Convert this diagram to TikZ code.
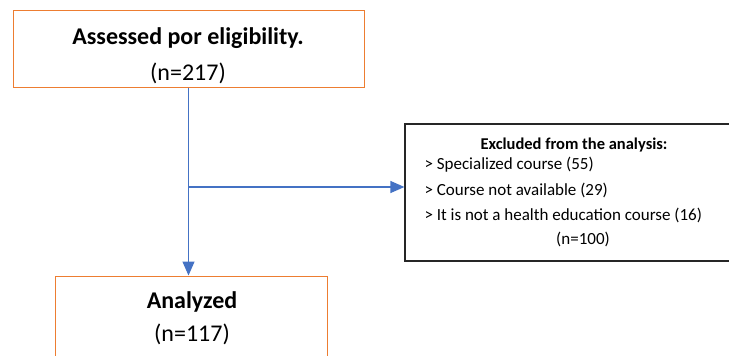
\documentclass[tikz,border=0pt]{standalone}
\usepackage{fontspec}
\setmainfont{Carlito}
\usetikzlibrary{arrows.meta}
\definecolor{boxorange}{RGB}{237,125,49}
\definecolor{flowblue}{RGB}{68,114,196}
\tikzset{
  stagebox/.style={draw=boxorange, line width=1pt, inner sep=0pt},
  flow/.style={draw=flowblue, line width=1.2pt, -{Triangle[length=14pt,width=12pt]}},
}
\begin{document}
\begin{tikzpicture}[x=1pt,y=-1pt]
    \useasboundingbox (0,0) rectangle (729,356);
    \clip (0,0) rectangle (729,356);
    % boxes
    \node[stagebox, minimum width=351pt, minimum height=77pt] (assessed) at (188.5,48.5){};
    \node[stagebox, minimum width=272pt, minimum height=120pt] (analyzed) at (191,336){};
    \node[draw=black!85, line width=1.2pt, minimum width=360pt, minimum height=137pt, inner sep=0pt] (excluded) at (585,192.5){};
    % texts
    \node[font=\bfseries\fontsize{24}{28}\selectfont] (assessedtitle) at (188,38){Assessed por eligibility.};
    \node[font=\fontsize{24}{28}\selectfont] (assessedn) at (188,73){(n=217)};
    \node[font=\bfseries\fontsize{24}{28}\selectfont] (analyzedtitle) at (192,302){Analyzed};
    \node[font=\fontsize{24}{28}\selectfont] (analyzedn) at (192,334){(n=117)};
    \node[font=\bfseries\fontsize{16.5}{18}\selectfont] (exhead) at (574,145){Excluded from the analysis:};
    \node[anchor=west, font=\fontsize{17}{18}\selectfont] (exone) at (421,165){> Specialized course (55)};
    \node[anchor=west, font=\fontsize{17}{18}\selectfont] (extwo) at (421,190){> Course not available (29)};
    \node[anchor=west, font=\fontsize{17}{18}\selectfont] (exthree) at (421,215){> It is not a health education course (16)};
    \node[font=\fontsize{17}{18}\selectfont] (exn) at (583,239){(n=100)};
    % connectors
    \coordinate (branch) at (assessed.south |- 0,187);
    \draw[flow] (assessed.south) -- (assessed.south |- analyzed.north);
    \draw[flow] (branch) -- (branch -| excluded.west);
\end{tikzpicture}
\end{document}
